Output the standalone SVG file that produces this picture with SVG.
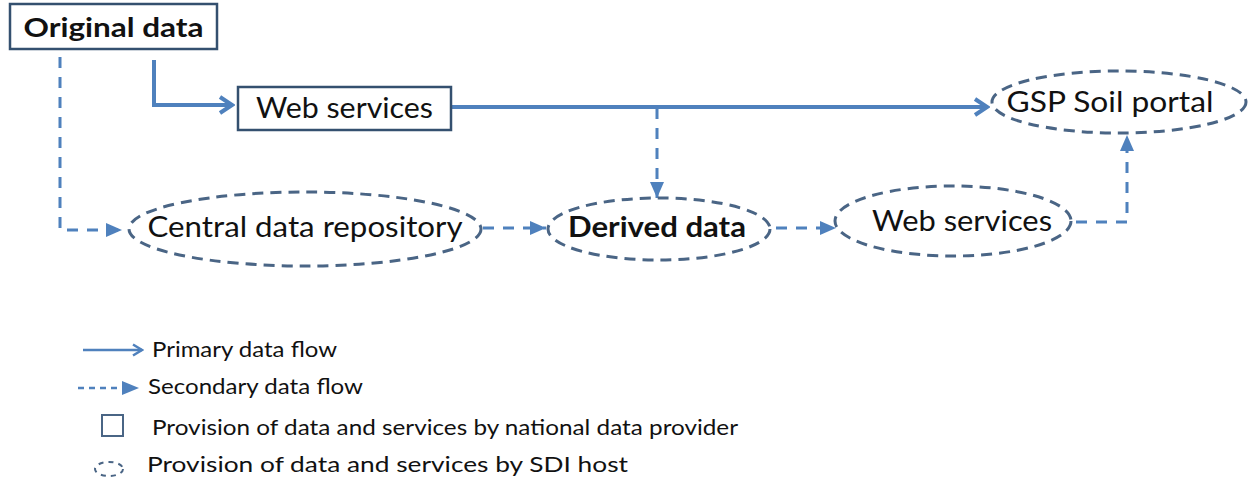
<svg xmlns="http://www.w3.org/2000/svg" width="1253" height="483" viewBox="0 0 1253 483">
<defs>
<marker id="open" viewBox="0 0 14 14" refX="12" refY="7" markerWidth="14" markerHeight="14" markerUnits="userSpaceOnUse" orient="auto">
<path d="M3,1.5 L12,7 L3,12.5" fill="none" stroke="#4f81bd" stroke-width="2.5"/>
</marker>
<marker id="openBig" viewBox="0 0 20 20" refX="17" refY="10" markerWidth="20" markerHeight="20" markerUnits="userSpaceOnUse" orient="auto">
<path d="M5,2 L17,10 L5,18" fill="none" stroke="#4f81bd" stroke-width="4"/>
</marker>
<marker id="tri" viewBox="0 0 18 16" refX="17" refY="8" markerWidth="18" markerHeight="16" markerUnits="userSpaceOnUse" orient="auto">
<path d="M1,1 L17,8 L1,15 Z" fill="#4f81bd"/>
</marker>
</defs>
<style>
.box{fill:#fff;stroke:#34506f;stroke-width:2.5}
.ell{fill:#fff;stroke:#4a6585;stroke-width:3;stroke-dasharray:11 7}
.t{font-family:Lato,"Liberation Sans",sans-serif;fill:#111;text-anchor:middle}
.lt{font-family:Lato,"Liberation Sans",sans-serif;fill:#111;font-size:21.5px}
.solid{fill:none;stroke:#4f81bd;stroke-width:4}
.dash{fill:none;stroke:#4f81bd;stroke-width:3;stroke-dasharray:11 9}
</style>
<g id="connectors">
<path class="solid" d="M154,60 V105 H232" marker-end="url(#openBig)"/>
<path class="solid" d="M451,107 H987" marker-end="url(#openBig)"/>
<path class="dash" d="M60,57 V230 H122" marker-end="url(#tri)"/>
<path class="dash" d="M657,108 V198" marker-end="url(#tri)"/>
<path class="dash" d="M483,228 H546" marker-end="url(#tri)"/>
<path class="dash" d="M776,228 H836" marker-end="url(#tri)"/>
<path class="dash" d="M1076,222 H1127 V135" marker-end="url(#tri)"/>
</g>
<g id="original-data">
<rect class="box" x="10" y="4" width="207" height="45"/>
<text class="t" x="113.5" y="37" font-size="27" font-weight="bold" textLength="180" lengthAdjust="spacingAndGlyphs">Original data</text>
</g>
<g id="web-services-1">
<rect class="box" x="238" y="87" width="213" height="43"/>
<text class="t" x="344.5" y="118" font-size="28" textLength="177" lengthAdjust="spacingAndGlyphs">Web services</text>
</g>
<g id="gsp-soil-portal">
<ellipse class="ell" cx="1119" cy="102" rx="127" ry="31"/>
<text class="t" x="1110" y="112" font-size="28" textLength="207" lengthAdjust="spacingAndGlyphs">GSP Soil portal</text>
</g>
<g id="central-data-repository">
<ellipse class="ell" cx="305" cy="229" rx="176" ry="37"/>
<text class="t" x="305" y="237" font-size="28" textLength="315" lengthAdjust="spacingAndGlyphs">Central data repository</text>
</g>
<g id="derived-data">
<ellipse class="ell" cx="659" cy="229" rx="111" ry="31"/>
<text class="t" x="657" y="237" font-size="28" font-weight="bold" textLength="178" lengthAdjust="spacingAndGlyphs">Derived data</text>
</g>
<g id="web-services-2">
<ellipse class="ell" cx="953" cy="221" rx="118" ry="35"/>
<text class="t" x="962" y="231" font-size="28" textLength="180" lengthAdjust="spacingAndGlyphs">Web services</text>
</g>
<g id="legend">
<path d="M83,350 H142" fill="none" stroke="#4f81bd" stroke-width="2.5" marker-end="url(#open)"/>
<text class="lt" x="152" y="357" textLength="185" lengthAdjust="spacingAndGlyphs">Primary data flow</text>
<path d="M78,388 H124" fill="none" stroke="#4f81bd" stroke-width="2.5" stroke-dasharray="6 5"/>
<path d="M122,381 L139,388 L122,395 Z" fill="#4f81bd"/>
<text class="lt" x="148" y="394" textLength="215" lengthAdjust="spacingAndGlyphs">Secondary data flow</text>
<rect x="102" y="415" width="21" height="21" fill="none" stroke="#4a6585" stroke-width="2"/>
<text class="lt" x="152" y="435" textLength="586" lengthAdjust="spacingAndGlyphs">Provision of data and services  by national data provider</text>
<ellipse cx="109" cy="469" rx="14" ry="7" fill="none" stroke="#4a6585" stroke-width="2" stroke-dasharray="5 5"/>
<text class="lt" x="147" y="472" textLength="481" lengthAdjust="spacingAndGlyphs">Provision of data and services  by SDI host</text>
</g>
</svg>
